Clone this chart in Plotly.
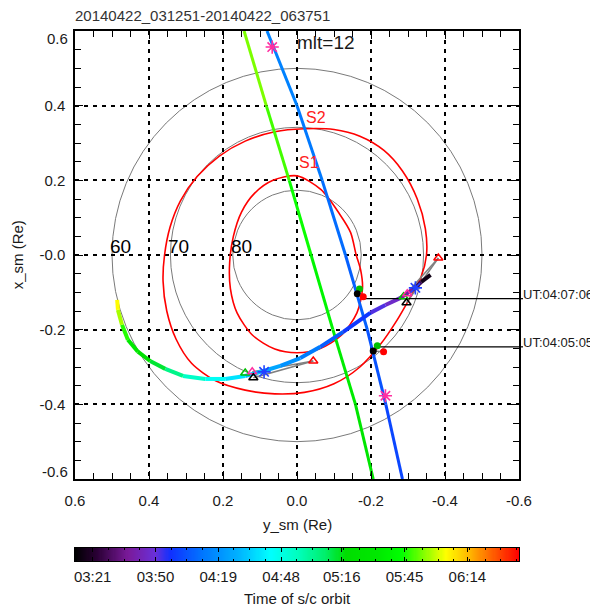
import numpy as np
import plotly.graph_objects as go
from plotly.colors import sample_colorscale

# ---------------- data ----------------
title_text = "20140422_031251-20140422_063751"
t_span = 205.0  # minutes, 03:12:51 -> 06:37:51

cbar_tick_minutes = [8.15, 37.15, 66.15, 95.15, 123.15, 152.15, 181.15]
cbar_tick_labels = ["03:21", "03:50", "04:19", "04:48", "05:16", "05:45", "06:14"]

axis_tickvals = [0.6, 0.4, 0.2, 0.0, -0.2, -0.4, -0.6]
x_tick_labels = ["0.6", "0.4", "0.2", "0.0", "-0.2", "-0.4", "-0.6"]
y_tick_labels = ["0.6", "0.4", "0.2", "-0.0", "-0.2", "-0.4", "-0.6"]

circle_lats = [60, 70, 80]
circle_labels = ["60", "70", "80"]

# curved spacecraft track (y_sm, x_sm, minutes after 03:12:51)
track_y = [-0.361, -0.336, -0.312, -0.280, -0.239, -0.198, -0.125, -0.063, -0.009, 0.045,
           0.088, 0.140, 0.194, 0.248, 0.308, 0.356, 0.397, 0.430, 0.457, 0.473, 0.484, 0.486]
track_x = [-0.053, -0.072, -0.093, -0.115, -0.134, -0.155, -0.206, -0.246, -0.276, -0.297,
           -0.310, -0.324, -0.332, -0.332, -0.324, -0.305, -0.284, -0.259, -0.227, -0.187, -0.147, -0.120]
track_t = [0, 8, 20, 31, 37, 41, 50, 57, 64, 69,
           75, 82, 88, 96, 106, 116, 125, 133, 147, 160, 168, 175]

# blue straight track
blue_y = [0.081, 0.0, -0.068, -0.131, -0.190, -0.240, -0.285]
blue_x = [0.6, 0.4, 0.2, 0.0, -0.2, -0.4, -0.6]
blue_t = [63.6, 61.0, 58.3, 55.6, 52.9, 50.2, 47.5]

# green straight track
green_y = [0.143, 0.083, 0.021, -0.038, -0.097, -0.158, -0.206]
green_x = [0.6, 0.4, 0.2, 0.0, -0.2, -0.4, -0.6]
green_t = [163, 158, 154, 149, 144, 139, 134]

# S1 / S2 ovals
s1_y = [0.0, 0.065, 0.115, 0.15, 0.172, 0.182, 0.18, 0.162, 0.12, 0.06, 0.0, -0.06, -0.12,
        -0.162, -0.177, -0.172, -0.16, -0.145, -0.115, -0.065, 0.0]
s1_x = [0.212, 0.2, 0.165, 0.115, 0.05, -0.02, -0.09, -0.155, -0.215, -0.252, -0.262, -0.252, -0.215,
        -0.155, -0.09, -0.04, 0.0, 0.06, 0.11, 0.175, 0.212]
s2_y = [-0.10, -0.02, 0.06, 0.14, 0.21, 0.27, 0.315, 0.343, 0.358, 0.362, 0.352, 0.327, 0.285,
        0.22, 0.14, 0.06, -0.02, -0.10, -0.17, -0.225, -0.27, -0.305, -0.335, -0.35, -0.347,
        -0.325, -0.285, -0.235, -0.17, -0.10]
s2_x = [0.336, 0.338, 0.330, 0.305, 0.265, 0.21, 0.145, 0.075, 0.0, -0.07, -0.15, -0.225, -0.29,
        -0.337, -0.362, -0.372, -0.368, -0.345, -0.30, -0.24, -0.175, -0.115, -0.06, 0.0, 0.07,
        0.15, 0.225, 0.28, 0.318, 0.336]

# markers
pink_star_y = [0.067, -0.239]
pink_star_x = [0.557, -0.377]
blue_star_y = [0.089, -0.320]
blue_star_x = [-0.313, -0.088]
tri_y = {"green": [0.140, -0.288], "magenta": [0.121, -0.298], "black": [0.118, -0.296], "red": [-0.044, -0.382]}
tri_x = {"green": [-0.316, -0.112], "magenta": [-0.313, -0.104], "black": [-0.329, -0.128], "red": [-0.284, -0.008]}
dot_y = {"green": [-0.169, -0.217], "black": [-0.163, -0.206], "red": [-0.179, -0.234]}
dot_x = {"green": [-0.091, -0.243], "black": [-0.104, -0.257], "red": [-0.112, -0.259]}

ut_labels = ["UT:04:07:06", "UT:04:05:05"]
ut_line_y0 = [-0.179, -0.217]
ut_line_x = [-0.117, -0.246]

# ---------------- styling ----------------
cscale = [[0.0, '#000000'], [0.05, '#2a0035'], [0.12, '#7a1a9a'], [0.18, '#6a30d8'],
          [0.215, '#1030ff'], [0.29, '#0078ff'], [0.37, '#00b4ff'], [0.44, '#00ffff'],
          [0.50, '#00ffc0'], [0.56, '#00f070'], [0.61, '#00dd00'], [0.68, '#00e800'],
          [0.735, '#00ff00'], [0.797, '#a0ff00'], [0.835, '#ffff00'], [0.89, '#ffb400'],
          [0.95, '#ff5000'], [1.0, '#ff0000']]
FONT = "Liberation Sans, Arial, Helvetica, sans-serif"
TXT = "#1a1a1a"
XMIN, XMAX = 0.6, -0.6
YMIN, YMAX = -0.6, 0.6


def tcolor(t):
    return sample_colorscale(cscale, [min(max(t / t_span, 0), 1)])[0]


fig = go.Figure()


def colored_path(xs, ys, ts, width):
    for i in range(len(xs) - 1):
        fig.add_trace(go.Scatter(x=[xs[i], xs[i + 1]], y=[ys[i], ys[i + 1]], mode="lines",
                                 line=dict(color=tcolor(0.5 * (ts[i] + ts[i + 1])), width=width),
                                 hoverinfo="skip", showlegend=False))


# ovals
for sx, sy in [(s1_y, s1_x), (s2_y, s2_x)]:
    fig.add_trace(go.Scatter(x=sx, y=sy, mode="lines",
                             line=dict(color="#ff0000", width=1.6, shape="spline", smoothing=0.8),
                             hoverinfo="skip", showlegend=False))

# straight tracks
colored_path(green_y, green_x, green_t, 3)
colored_path(blue_y, blue_x, blue_t, 3)

# gray connector lines
gray_pairs = [("magenta", "red", 0), ("black", "red", 0), ("green", "red", 1), ("black", "red", 1)]
for a, b, k in gray_pairs:
    fig.add_trace(go.Scatter(x=[tri_y[a][k], tri_y[b][k]], y=[tri_x[a][k], tri_x[b][k]], mode="lines",
                             line=dict(color="#808080", width=1.5), hoverinfo="skip", showlegend=False))
for k in range(2):
    fig.add_trace(go.Scatter(x=[dot_y["black"][k], dot_y["red"][k]], y=[dot_x["black"][k], dot_x["red"][k]],
                             mode="lines", line=dict(color="#808080", width=1.5), hoverinfo="skip", showlegend=False))

# curved track
colored_path(track_y, track_x, track_t, 4)

# UT lines
for k in range(2):
    fig.add_trace(go.Scatter(x=[ut_line_y0[k], XMAX], y=[ut_line_x[k], ut_line_x[k]], mode="lines",
                             line=dict(color="black", width=1.2), hoverinfo="skip", showlegend=False))

# markers
tri_colors = {"green": "#00c000", "magenta": "#ff2ea0", "black": "#000000", "red": "#ff0000"}
for name, col in tri_colors.items():
    fig.add_trace(go.Scatter(x=tri_y[name], y=tri_x[name], mode="markers", cliponaxis=False,
                             marker=dict(symbol="triangle-up-open", size=8, color=col, line=dict(width=1.5, color=col)),
                             hoverinfo="skip", showlegend=False))
dot_colors = {"green": "#00c000", "black": "#000000", "red": "#ff0000"}
for name, col in dot_colors.items():
    fig.add_trace(go.Scatter(x=dot_y[name], y=dot_x[name], mode="markers",
                             marker=dict(symbol="circle", size=7, color=col),
                             hoverinfo="skip", showlegend=False))
fig.add_trace(go.Scatter(x=pink_star_y, y=pink_star_x, mode="markers",
                         marker=dict(symbol="asterisk-open", size=11, color="#ff2ea0", line=dict(width=1.6, color="#ff2ea0")),
                         hoverinfo="skip", showlegend=False))
fig.add_trace(go.Scatter(x=blue_star_y, y=blue_star_x, mode="markers",
                         marker=dict(symbol="asterisk-open", size=11, color="#2040ff", line=dict(width=1.6, color="#2040ff")),
                         hoverinfo="skip", showlegend=False))

# colour bar as a heatmap on its own axes
cb_t = np.linspace(0, t_span, 411)
fig.add_trace(go.Heatmap(x=cb_t, y=[0.5], z=[cb_t], zmin=0, zmax=t_span, colorscale=cscale,
                         showscale=False, xaxis="x2", yaxis="y2", hoverinfo="skip"))

# latitude circles
shapes = []
for lat in circle_lats:
    r = float(np.cos(np.radians(lat)))
    shapes.append(dict(type="circle", xref="x", yref="y", x0=-r, x1=r, y0=-r, y1=r,
                       line=dict(color="#7a7a7a", width=1), layer="below"))
for yv in ut_line_x:
    shapes.append(dict(type="line", xref="paper", yref="y", x0=1.0, x1=1.009, y0=yv, y1=yv,
                       line=dict(color="black", width=1.2)))

annotations = []
for lat, lab in zip(circle_lats, circle_labels):
    r = float(np.cos(np.radians(lat)))
    annotations.append(dict(x=r, y=0.0, xref="x", yref="y", text=lab, showarrow=False,
                            xanchor="left", yanchor="bottom", xshift=-4, yshift=-4,
                            font=dict(family=FONT, size=19, color="black")))
annotations.append(dict(x=0.0, y=0.55, xref="x", yref="y", text="mlt=12", showarrow=False,
                        xanchor="left", yanchor="bottom", xshift=-2, yshift=-5,
                        font=dict(family=FONT, size=19, color=TXT)))
annotations.append(dict(x=-0.02, y=0.35, xref="x", yref="y", text="S2", showarrow=False,
                        xanchor="left", yanchor="bottom", yshift=-4,
                        font=dict(family=FONT, size=16, color="#ff2020")))
annotations.append(dict(x=0.0, y=0.23, xref="x", yref="y", text="S1", showarrow=False,
                        xanchor="left", yanchor="bottom", yshift=-4,
                        font=dict(family=FONT, size=16, color="#ff2020")))
for lab, yv in zip(ut_labels, ut_line_x):
    annotations.append(dict(x=1.0, y=yv, xref="paper", yref="y", text=lab, showarrow=False,
                            xanchor="left", yanchor="middle", xshift=2, yshift=4,
                            font=dict(family=FONT, size=13, color=TXT)))
annotations.append(dict(x=0.0, y=1.028, xref="paper", yref="paper", text=title_text, showarrow=False,
                        xanchor="left", yanchor="middle", xshift=-2,
                        font=dict(family=FONT, size=15, color="#333333")))
annotations.append(dict(x=0.5, y=0.0784, xref="paper", yref="paper", text="y_sm (Re)", showarrow=False,
                        xanchor="center", yanchor="middle", font=dict(family=FONT, size=15, color=TXT)))
annotations.append(dict(x=-0.13, y=0.582, xref="paper", yref="paper", text="x_sm (Re)", showarrow=False,
                        textangle=-90, xanchor="center", yanchor="middle", font=dict(family=FONT, size=15, color=TXT)))
annotations.append(dict(x=0.5, y=-0.058, xref="paper", yref="paper", text="Time of s/c orbit", showarrow=False,
                        xanchor="center", yanchor="middle", font=dict(family=FONT, size=15, color=TXT)))

# y tick labels: the end labels sit slightly inside the frame in the reference
y_axis_text = [lab if 0 < i < len(y_tick_labels) - 1 else "" for i, lab in enumerate(y_tick_labels)]
for i in (0, len(y_tick_labels) - 1):
    annotations.append(dict(x=0.0, y=axis_tickvals[i], xref="paper", yref="y", text=y_tick_labels[i],
                            showarrow=False, xanchor="right", yanchor="middle", xshift=-5,
                            yshift=-7 if axis_tickvals[i] > 0 else 8,
                            font=dict(family=FONT, size=15, color=TXT)))

axis_common = dict(showline=True, linecolor="black", linewidth=1.5, mirror="ticks",
                   ticks="inside", ticklen=8, tickcolor="black", tickwidth=1.2,
                   showgrid=True, gridcolor="black", gridwidth=2, griddash="4px,5px",
                   zeroline=False, tickvals=axis_tickvals,
                   tickfont=dict(family=FONT, size=15, color=TXT),
                   minor=dict(dtick=0.05, tick0=0, ticks="inside", ticklen=6, tickcolor="black",
                              tickwidth=1.2, showgrid=False))

# the page body adds an 8px offset, so the figure is laid out 8px up/left of the window
fig.update_layout(
    width=590, height=599, margin=dict(l=67, r=79, t=23, b=40),
    paper_bgcolor="white", plot_bgcolor="white", showlegend=False,
    xaxis=dict(range=[XMIN, XMAX], domain=[0, 1], ticktext=x_tick_labels, anchor="y",
               ticklabelstandoff=7, **axis_common),
    yaxis=dict(range=[YMIN, YMAX], domain=[0.16418, 1], ticktext=y_axis_text, anchor="x",
               ticklabelstandoff=5, **axis_common),
    xaxis2=dict(domain=[0, 1], anchor="y2", range=[0, t_span], tickvals=cbar_tick_minutes,
                ticktext=cbar_tick_labels, ticks="inside", ticklen=4, tickcolor="black",
                showline=True, linecolor="black", linewidth=1, mirror="ticks", showgrid=False,
                zeroline=False, ticklabelstandoff=2,
                tickfont=dict(family=FONT, size=15, color=TXT),
                minor=dict(dtick=7.25, tick0=8.15, ticks="inside", ticklen=2, tickcolor="black")),
    yaxis2=dict(domain=[0.0112, 0.0355], anchor="x2", range=[0, 1], showticklabels=False,
                ticks="", showline=True, linecolor="black", linewidth=1, mirror=True,
                showgrid=False, zeroline=False),
    shapes=shapes, annotations=annotations,
)

fig.write_html("out.html")
